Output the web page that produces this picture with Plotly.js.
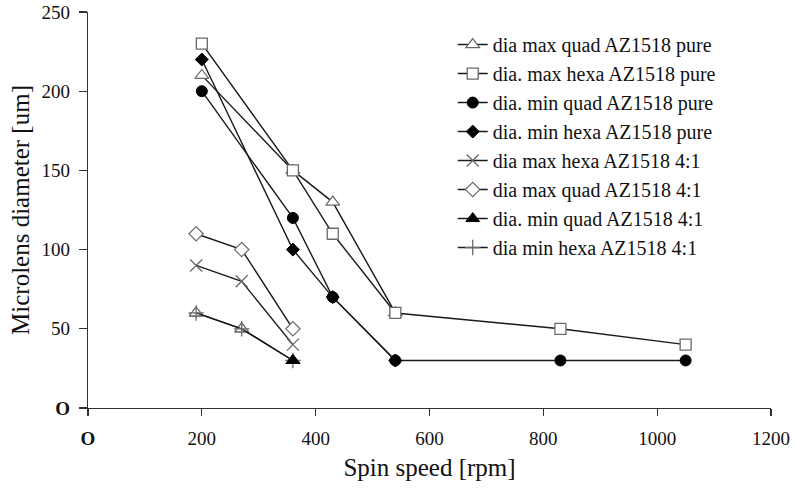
<!DOCTYPE html>
<html>
<head>
<meta charset="utf-8">
<script src="https://cdn.plot.ly/plotly-3.0.1.min.js"></script>
<style>html,body{margin:0;padding:0;background:#fff}#chart{width:795px;height:494px}</style>
</head>
<body>
<div id="chart"></div>
<script>
// ---- data ----
const seriesNames = [
  "dia max quad AZ1518 pure",
  "dia. max hexa AZ1518 pure",
  "dia. min quad AZ1518 pure",
  "dia. min hexa AZ1518 pure",
  "dia max hexa AZ1518 4:1",
  "dia max quad AZ1518 4:1",
  "dia. min quad AZ1518 4:1",
  "dia min hexa AZ1518 4:1"
];
const maxQuadPureX = [200, 360, 430, 540];
const maxQuadPureY = [210, 150, 130, 60];
const maxHexaPureX = [200, 360, 430, 540, 830, 1050];
const maxHexaPureY = [230, 150, 110, 60, 50, 40];
const minQuadPureX = [200, 360, 430, 540, 830, 1050];
const minQuadPureY = [200, 120, 70, 30, 30, 30];
const minHexaPureX = [200, 360, 430, 540];
const minHexaPureY = [220, 100, 70, 30];
const maxHexa41X = [190, 270, 360];
const maxHexa41Y = [90, 80, 40];
const maxQuad41X = [190, 270, 360];
const maxQuad41Y = [110, 100, 50];
const minQuad41X = [190, 270, 360];
const minQuad41Y = [60, 50, 30];
const minHexa41X = [190, 270, 360];
const minHexa41Y = [60, 50, 30];

const xTickVals = [0, 200, 400, 600, 800, 1000, 1200];
const xTickText = ["<b>O</b>", "200", "400", "600", "800", "1000", "1200"];
const yTickVals = [0, 50, 100, 150, 200, 250];
const yTickText = ["<b>O</b>", "50", "100", "150", "200", "250"];

const LINE = "#1a1a1a";
const GRAY = "#6a6a6a";
const SERIF = "'Liberation Serif', serif";

function tr(name, x, y, marker, extra) {
  return Object.assign({
    type: "scatter", mode: "lines+markers", name: name, x: x, y: y,
    line: {color: LINE, width: 1.4},
    marker: marker,
    legendgroup: name,
    cliponaxis: false
  }, extra || {});
}
const hidden = {mode: "markers", showlegend: false, hoverinfo: "skip"};

const traces = [
  tr(seriesNames[0], maxQuadPureX, maxQuadPureY,
     {symbol: "triangle-up", size: 12, color: "#fff", line: {color: GRAY, width: 1.2}}, {legendrank: 1}),
  tr(seriesNames[1], maxHexaPureX, maxHexaPureY,
     {symbol: "square", size: 11, color: "#fff", line: {color: GRAY, width: 1.3}}, {legendrank: 2}),
  tr(seriesNames[2], minQuadPureX, minQuadPureY,
     {symbol: "circle", size: 11, color: "#000", line: {color: "#000", width: 1}}, {legendrank: 3}),
  tr(seriesNames[3], minHexaPureX, minHexaPureY,
     {symbol: "diamond", size: 10, color: "#000", line: {color: "#000", width: 1}}, {legendrank: 4}),
  tr(seriesNames[4], maxHexa41X, maxHexa41Y,
     {symbol: "x-thin-open", size: 12, color: GRAY, line: {color: GRAY, width: 1.3}}, {legendrank: 5}),
  tr(seriesNames[5], maxQuad41X, maxQuad41Y,
     {symbol: "diamond", size: 11, color: "#fff", line: {color: GRAY, width: 1.2}}, {legendrank: 6}),
  tr(seriesNames[6], minQuad41X, minQuad41Y,
     {symbol: "triangle-up", size: 12, color: "#000", line: {color: "#000", width: 1}}, {legendrank: 7}),
  // open triangles over the first two points, as seen in the picture
  tr("", minQuad41X.slice(0, 2), minQuad41Y.slice(0, 2),
     {symbol: "triangle-up", size: 12, color: "#fff", line: {color: GRAY, width: 1.2}}, hidden),
  tr(seriesNames[7], minHexa41X, minHexa41Y,
     {symbol: "cross-thin-open", size: 11, color: GRAY, line: {color: GRAY, width: 1.3}}, {legendrank: 8}),
  // filled triangle at the last point stays on top
  tr("", minQuad41X.slice(2), minQuad41Y.slice(2),
     {symbol: "triangle-up", size: 12, color: "#000", line: {color: "#000", width: 1}}, hidden)
];

const layout = {
  width: 795, height: 494,
  margin: {l: 88, r: 24, t: 12, b: 86},
  paper_bgcolor: "#fff", plot_bgcolor: "#fff",
  font: {family: SERIF, color: "#111", size: 19},
  showlegend: true,
  legend: {
    x: 0.534, y: 0.967, xanchor: "left", yanchor: "top",
    font: {family: SERIF, size: 20, color: "#111"},
    bgcolor: "rgba(0,0,0,0)", borderwidth: 0,
    tracegroupgap: 0, traceorder: "normal"
  },
  xaxis: {
    range: [0, 1200], tickvals: xTickVals, ticktext: xTickText,
    showline: true, linecolor: "#333", linewidth: 1.2,
    ticks: "outside", ticklen: 7, tickcolor: "#333", tickwidth: 1.2,
    ticklabelstandoff: 6,
    showgrid: false, zeroline: false,
    tickfont: {family: SERIF, size: 19, color: "#111"},
    title: {text: "Spin speed [rpm]", font: {family: SERIF, size: 25, color: "#111"}, standoff: 10}
  },
  yaxis: {
    range: [0, 250], tickvals: yTickVals, ticktext: yTickText,
    showline: true, linecolor: "#333", linewidth: 1.2,
    ticks: "outside", ticklen: 8, tickcolor: "#333", tickwidth: 1.2,
    ticklabelstandoff: 5,
    showgrid: false, zeroline: false,
    tickfont: {family: SERIF, size: 19, color: "#111"},
    title: {text: "Microlens diameter [um]", font: {family: SERIF, size: 25, color: "#111"}, standoff: 4}
  }
};

Plotly.newPlot("chart", traces, layout, {displayModeBar: false, staticPlot: true});
</script>
</body>
</html>
